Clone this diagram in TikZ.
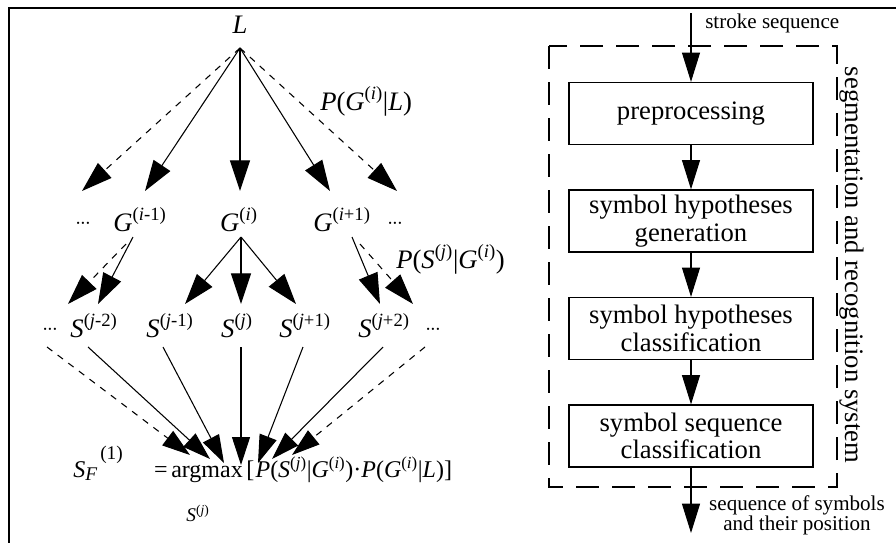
\documentclass[tikz,border=0pt]{standalone}
\usepackage{fontspec}
\setmainfont{Liberation Serif}
\usetikzlibrary{arrows.meta}
\newcommand{\Gs}[1]{\textit{G}\/\textsuperscript{(#1)}}
\newcommand{\Ss}[1]{\textit{S}\/\textsuperscript{(#1)}}
\newcommand{\dts}{{\fontsize{14}{14}\selectfont ·\kern-1pt·\kern-1pt·}}
\begin{document}
\begin{tikzpicture}[x=0.75pt,y=-0.75pt,
  lbl/.style={font=\fontsize{20}{20.5}\selectfont, inner sep=0pt},
  fml/.style={font=\fontsize{18}{18}\selectfont, inner sep=0pt},
  fmls/.style={font=\fontsize{14.5}{14.5}\selectfont, inner sep=0pt},
  sml/.style={font=\fontsize{15.8}{15}\selectfont, inner sep=0pt, align=center},
  proc/.style={draw, line width=0.9pt, minimum width=183pt, minimum height=46.5pt, align=center, font=\fontsize{20}{20.5}\selectfont, inner sep=0pt},
  arr/.style={line width=0.8pt, -{Triangle[length=23pt,width=15pt]}},
  darr/.style={arr, dash pattern=on 5pt off 5pt},
  carr/.style={line width=0.8pt, -{Triangle[length=21pt,width=13.5pt]}},
  dcarr/.style={carr, dash pattern=on 5pt off 5pt},
  rarr/.style={line width=0.8pt, -{Triangle[length=22pt,width=13.5pt]}},
]
\useasboundingbox (0,0) rectangle (896,543);
% frame
\draw[line width=1.5pt] (896,8) -- (9,8) -- (9,543);

% ---------- left tree ----------
\node[lbl, anchor=base] (L) at (240,33) {\textit{L}};
\coordinate (Lapex) at (240,48);
\coordinate (t1) at (82,191);
\coordinate (t2) at (145,191);
\coordinate (t3) at (240,191);
\coordinate (t4) at (330,191);
\coordinate (t5) at (397,191);
\draw[darr] (Lapex) -- (t1);
\draw[arr] (Lapex) -- (t2);
\draw[arr] (Lapex) -- (t3);
\draw[arr] (Lapex) -- (t4);
\draw[darr] (Lapex) -- (t5);
\node[lbl, anchor=base west] (pgl) at (320,110) {\textit{P}(\Gs{\textit{i}}|\textit{L})};

% G row
\node[lbl, anchor=base] (gdl) at (83,229) {\dts};
\node[lbl, anchor=base] (gm1) at (140,231) {\Gs{\textit{i}-1}};
\node[lbl, anchor=base] (g0) at (239,231) {\Gs{\textit{i}}};
\node[lbl, anchor=base] (gp1) at (342,231) {\Gs{\textit{i}+1}};
\node[lbl, anchor=base] (gdr) at (395,229) {\dts};

\coordinate (gm1s) at (133,237);
\coordinate (gm1d) at (126,244);
\coordinate (g0s) at (241,237);
\coordinate (gp1s) at (352,237);
\coordinate (gp1d) at (360,244);
\coordinate (u1) at (68,304);
\coordinate (u2) at (98,304);
\coordinate (u3) at (185,304);
\coordinate (u4) at (241,304);
\coordinate (u5) at (296,304);
\coordinate (u6) at (380,304);
\coordinate (u7) at (413,304);
\draw[darr] (gm1d) -- (u1);
\draw[arr] (gm1s) -- (u2);
\draw[arr] (g0s) -- (u3);
\draw[arr] (g0s) -- (u4);
\draw[arr] (g0s) -- (u5);
\draw[arr] (gp1s) -- (u6);
\draw[darr] (gp1d) -- (u7);
\node[lbl, anchor=base west] (psg) at (396,268) {\textit{P}(\Ss{\textit{j}}|\Gs{\textit{i}})};

% S row
\node[lbl, anchor=base] (sdl) at (50,335) {\dts};
\node[lbl, anchor=base] (sm2) at (94,337) {\Ss{\textit{j}-2}};
\node[lbl, anchor=base] (sm1) at (170,337) {\Ss{\textit{j}-1}};
\node[lbl, anchor=base] (s0) at (237,337) {\Ss{\textit{j}}};
\node[lbl, anchor=base] (sp1) at (305,337) {\Ss{\textit{j}+1}};
\node[lbl, anchor=base] (sp2) at (384,337) {\Ss{\textit{j}+2}};
\node[lbl, anchor=base] (sdr) at (433,335) {\dts};

\coordinate (a1) at (47,347);
\coordinate (a2) at (88,347);
\coordinate (a3) at (163,347);
\coordinate (a4) at (241,347);
\coordinate (a5) at (303,347);
\coordinate (a6) at (383,347);
\coordinate (a7) at (425,347);
\coordinate (b1) at (190,455);
\coordinate (b2) at (210,459);
\coordinate (b3) at (224,463);
\coordinate (b4) at (241,465);
\coordinate (b5) at (258,463);
\coordinate (b6) at (272,459);
\coordinate (b7) at (292,455);
\draw[dcarr] (a1) -- (b1);
\draw[carr] (a2) -- (b2);
\draw[carr] (a3) -- (b3);
\draw[carr] (a4) -- (b4);
\draw[carr] (a5) -- (b5);
\draw[carr] (a6) -- (b6);
\draw[dcarr] (a7) -- (b7);

% formula
\node[fml, anchor=base west] (fS) at (73,477) {\textit{S}};
\node[fmls, anchor=base west] (fsub) at (85,480) {\textit{F}};
\node[fmls, anchor=base west] (fsup) at (100,459) {(1)};
\node[fml, anchor=base] (feq) at (161,477) {=};
\node[fml, anchor=base west] (farg) at (171,477) {argmax};
\node[fmls, anchor=base] (fargsub) at (198,521) {\Ss{\textit{j}}};
\node[fml, anchor=base west] (fbr) at (246,477)
 {[\kern1pt\textit{P}(\Ss{\textit{j}}|\Gs{\textit{i}})·\textit{P}(\Gs{\textit{i}}|\textit{L})]};

% ---------- right flow ----------
\draw[line width=1pt, dash pattern=on 17pt off 10pt] (549,46) rectangle (837,487);
\node[lbl, rotate=-90] (sys) at (852,265) {segmentation and recognition system};

\coordinate (in) at (691,13);
\node[sml, anchor=base west] (sslab) at (705,28) {stroke sequence};
\node[proc] (pre) at (691,113.5) {preprocessing};
\node[proc] (gen) at (691,221) {symbol hypotheses\\generation};
\node[proc] (cls) at (691,328.5) {symbol hypotheses\\classification};
\node[proc] (seq) at (691,436) {symbol sequence\\classification};
\coordinate (out) at (691,533);
\node[sml] (outlab) at (797,515) {sequence of symbols\\and their position};

\draw[rarr] (in) -- (pre);
\draw[rarr] (pre) -- (gen);
\draw[rarr] (gen) -- (cls);
\draw[rarr] (cls) -- (seq);
\draw[rarr] (seq) -- (out);
\end{tikzpicture}
\end{document}
